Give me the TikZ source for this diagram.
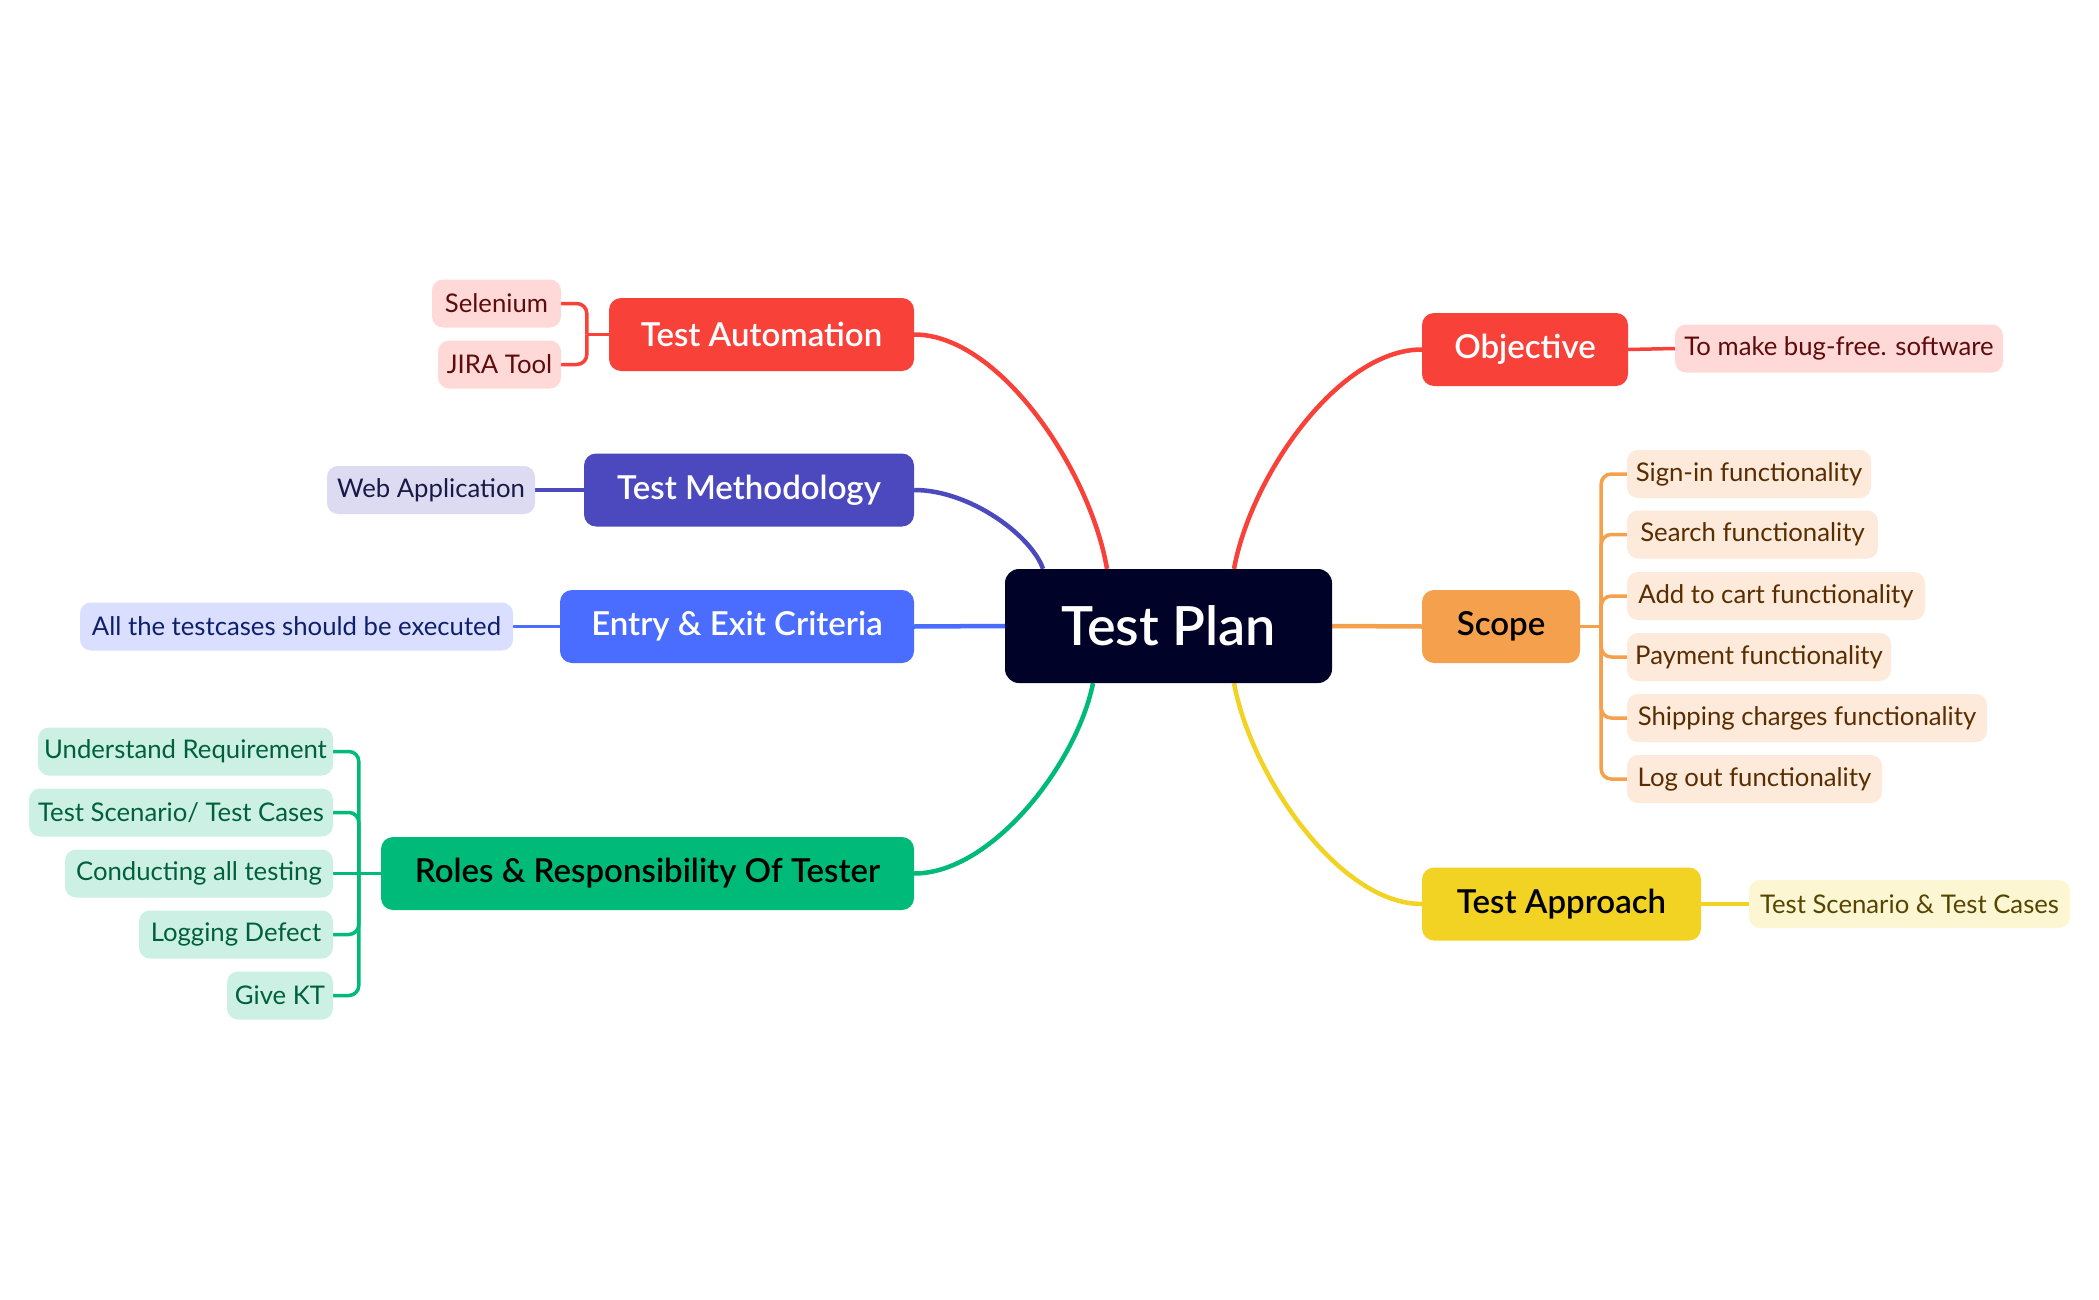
\documentclass[tikz,border=0pt]{standalone}
\usepackage{fontspec}
\usetikzlibrary{backgrounds}
\setmainfont{Lato}
\IfFontExistsTF{Lato Semibold}{\newfontfamily\semib{Lato Semibold}}{\newcommand\semib{\bfseries}}
\definecolor{cDark}{HTML}{000228}
\definecolor{cRed}{HTML}{F84139}
\definecolor{cIndigo}{HTML}{4C49BE}
\definecolor{cBlue}{HTML}{4A6CFF}
\definecolor{cGreen}{HTML}{00BA79}
\definecolor{cOrange}{HTML}{F5A04C}
\definecolor{cYellow}{HTML}{F2D323}
\definecolor{lRed}{HTML}{FFD9D8}
\definecolor{tRed}{HTML}{5E0B0B}
\definecolor{lIndigo}{HTML}{DCDBF2}
\definecolor{tIndigo}{HTML}{1A1846}
\definecolor{lBlue}{HTML}{DADFFF}
\definecolor{tBlue}{HTML}{0E1F6B}
\definecolor{lGreen}{HTML}{CCF1E4}
\definecolor{tGreen}{HTML}{00603E}
\definecolor{lOrange}{HTML}{FDEADA}
\definecolor{tOrange}{HTML}{5A2D00}
\definecolor{lYellow}{HTML}{FDF6D3}
\definecolor{tYellow}{HTML}{554500}
\tikzset{
  central/.style={fill=cDark, text=white, rounded corners=14pt, inner sep=0pt,
    minimum width=327pt, minimum height=114pt, font=\fontsize{54}{62}\selectfont\semib},
  topic/.style={rounded corners=12pt, inner sep=0pt, minimum height=73pt,
    font=\fontsize{33}{39}\selectfont\semib},
  leaf/.style={rounded corners=11pt, inner sep=0pt, minimum height=48pt,
    font=\fontsize{25.7}{30}\selectfont},
  conn/.style={line width=4.5pt},
  br/.style={line width=3.5pt, rounded corners=10pt},
}
\begin{document}
\begin{tikzpicture}[x=1pt,y=-1pt]
\useasboundingbox (0,0) rectangle (2099,1300);

% central
\node[central] (tp) at (1168.5,626) {Test Plan};
% left topics
\node[topic, fill=cRed, text=white, minimum width=305pt] (ta) at (761.5,334.5) {Test Automation};
\node[topic, fill=cIndigo, text=white, minimum width=330pt] (tm) at (749,490) {Test Methodology};
\node[topic, fill=cBlue, text=white, minimum width=354pt] (ee) at (737,626.5) {Entry \& Exit Criteria};
\node[topic, fill=cGreen, text=black, minimum width=533pt] (roles) at (647.5,873.5) {Roles \& Responsibility Of Tester};
% right topics
\node[topic, fill=cRed, text=white, minimum width=206pt] (obj) at (1525,349.5) {Objective};
\node[topic, fill=cOrange, text=black, minimum width=158pt] (scope) at (1501,626.5) {Scope};
\node[topic, fill=cYellow, text=black, minimum width=279pt] (appr) at (1561.5,904) {Test Approach};

% leaves: Test Automation
\node[leaf, fill=lRed, text=tRed, minimum width=129pt] (sel) at (496.5,303.5) {Selenium};
\node[leaf, fill=lRed, text=tRed, minimum width=123pt] (jira) at (499.5,364.5) {JIRA Tool};
% Methodology
\node[leaf, fill=lIndigo, text=tIndigo, minimum width=208pt] (web) at (431,490) {Web Application};
% Entry exit
\node[leaf, fill=lBlue, text=tBlue, minimum width=433pt] (all) at (296.5,626.5) {All the testcases should be executed};
% Roles
\node[leaf, fill=lGreen, text=tGreen, minimum width=295pt] (r1) at (185.5,751.5) {Understand Requirement};
\node[leaf, fill=lGreen, text=tGreen, minimum width=304pt] (r2) at (181,812.5) {Test Scenario/ Test Cases};
\node[leaf, fill=lGreen, text=tGreen, minimum width=268pt] (r3) at (199,873.5) {Conducting all testing};
\node[leaf, fill=lGreen, text=tGreen, minimum width=194pt] (r4) at (236,934.5) {Logging Defect};
\node[leaf, fill=lGreen, text=tGreen, minimum width=106pt] (r5) at (280,995.5) {Give KT};
% Objective
\node[leaf, fill=lRed, text=tRed, minimum width=328pt] (bug) at (1839,348.5) {To make bug-free. software};
% Scope
\node[leaf, fill=lOrange, text=tOrange, minimum width=244pt] (s1) at (1749,474) {Sign-in functionality};
\node[leaf, fill=lOrange, text=tOrange, minimum width=251pt] (s2) at (1752.5,534.5) {Search functionality};
\node[leaf, fill=lOrange, text=tOrange, minimum width=298pt] (s3) at (1776,596) {Add to cart functionality};
\node[leaf, fill=lOrange, text=tOrange, minimum width=264pt] (s4) at (1759,657) {Payment functionality};
\node[leaf, fill=lOrange, text=tOrange, minimum width=360pt] (s5) at (1807,718) {Shipping charges functionality};
\node[leaf, fill=lOrange, text=tOrange, minimum width=255pt] (s6) at (1754.5,779) {Log out functionality};
% Approach
\node[leaf, fill=lYellow, text=tYellow, minimum width=321pt] (tsc) at (1909.5,904) {Test Scenario \& Test Cases};

\begin{scope}[on background layer]
\fill[white] (0,0) rectangle (2099,1300);
% main connectors
\draw[conn, cRed] ([xshift=-61.5pt]tp.north) .. controls +(-17,-99) and +(85,0) .. (ta.east);
\draw[conn, cIndigo] ([xshift=-125.5pt]tp.north) .. controls +(-11.5,-33) and +(56,0) .. (tm.east);
\draw[conn, cBlue] (tp.west) -- (ee.east);
\draw[conn, cGreen] ([xshift=-75.5pt]tp.south) .. controls +(-16,80) and +(78,0) .. (roles.east);
\draw[conn, cRed] ([xshift=65.5pt]tp.north) .. controls +(17,-93) and +(-83,0) .. (obj.west);
\draw[conn, cOrange] (tp.east) -- (scope.west);
\draw[conn, cYellow] ([xshift=65.5pt]tp.south) .. controls +(17,92) and +(-83,0) .. (appr.west);
% sub connectors
\draw[br, cRed] (ta.west) -- ([xshift=-22pt]ta.west);
\foreach \c in {sel,jira} \draw[br, cRed] ([xshift=-22pt]ta.west) |- (\c.east);
\draw[br, cIndigo] (tm.west) -- (web.east);
\draw[br, cBlue] (ee.west) -- (all.east);
\draw[br, cRed] (obj.east) -- (bug.west);
\draw[br, cYellow] (appr.east) -- (tsc.west);
\draw[br, cGreen] (roles.west) -- (r3.east);
\foreach \c in {r1,r2,r4,r5} \draw[br, cGreen] ([xshift=-22pt]roles.west) |- (\c.east);
\draw[br, cOrange] (scope.east) -- ([xshift=21pt]scope.east);
\foreach \c in {s1,s2,s3,s4,s5,s6} \draw[br, cOrange] ([xshift=21pt]scope.east) |- (\c.west);
\end{scope}
\end{tikzpicture}
\end{document}
